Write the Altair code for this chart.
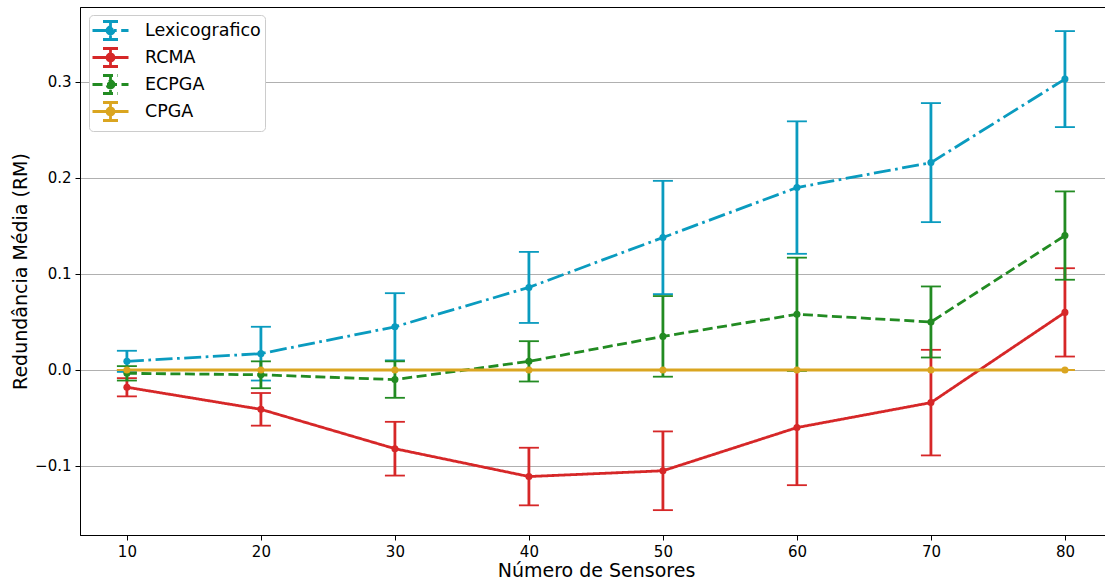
import altair as alt
import pandas as pd

sensores = [10, 20, 30, 40, 50, 60, 70, 80]
series_names = ["Lexicografico", "RCMA", "ECPGA", "CPGA"]

lex_mean = [0.009, 0.017, 0.045, 0.086, 0.138, 0.190, 0.216, 0.303]
lex_err = [0.011, 0.028, 0.035, 0.037, 0.059, 0.069, 0.062, 0.050]
rcma_mean = [-0.018, -0.041, -0.082, -0.111, -0.105, -0.060, -0.034, 0.060]
rcma_err = [0.0095, 0.017, 0.028, 0.030, 0.041, 0.060, 0.055, 0.046]
ecpga_mean = [-0.0035, -0.005, -0.010, 0.009, 0.035, 0.058, 0.050, 0.140]
ecpga_err = [0.0075, 0.014, 0.019, 0.021, 0.042, 0.059, 0.037, 0.046]
cpga_mean = [0.0, 0.0, 0.0, 0.0, 0.0, 0.0, 0.0, 0.0]
cpga_err = [0.0, 0.0, 0.0, 0.0, 0.0, 0.0, 0.0, 0.0]

means = [lex_mean, rcma_mean, ecpga_mean, cpga_mean]
errs = [lex_err, rcma_err, ecpga_err, cpga_err]
colors = ["#0a9bbf", "#d62728", "#228b22", "#daa520"]
dashes = [[17, 4.5, 2.7, 4.5], [1, 0], [10, 4.5], [1, 0]]

FONT = "DejaVu Sans"
xdom = [6.5, 82.99]
ydom = [-0.1719, 0.3781]

# legend symbol: line with an error bar and a dot, units scaled by sqrt(symbolSize)/2 = 10
legend_path = ("M-1.8,0H1.8M0,-0.9V0.9M-0.75,-0.9H0.75M-0.75,0.9H0.75"
               "M0.35,0A0.35,0.35,0,1,1,-0.35,0A0.35,0.35,0,1,1,0.35,0Z")
leg = alt.Legend(title=None, symbolType=legend_path)

layers = []
for name, m, e, c in zip(series_names, means, errs, colors):
    df = pd.DataFrame({
        "x": sensores,
        "y": m,
        "lo": [a - b for a, b in zip(m, e)],
        "hi": [a + b for a, b in zip(m, e)],
        "serie": name,
    })
    base = alt.Chart(df)
    X = alt.X("x:Q", scale=alt.Scale(domain=xdom, nice=False, zero=False),
              axis=alt.Axis(values=sensores, title="Número de Sensores", grid=False,
                            format="d", titleX=516))
    Y = alt.Y("y:Q", scale=alt.Scale(domain=ydom, nice=False, zero=False),
              axis=alt.Axis(values=[-0.1, 0.0, 0.1, 0.2, 0.3], format=".1f",
                            title="Redundância Média (RM)", grid=True, titleX=-50))
    line = base.mark_line(strokeWidth=2.8, clip=True).encode(
        x=X, y=Y,
        color=alt.Color("serie:N", scale=alt.Scale(domain=series_names, range=colors), legend=leg),
        strokeDash=alt.StrokeDash("serie:N", scale=alt.Scale(domain=series_names, range=dashes),
                                  legend=leg),
    )
    bars = base.mark_rule(strokeWidth=2.8, color=c).encode(
        x=alt.X("x:Q"), y=alt.Y("lo:Q"), y2=alt.Y2("hi:Q"))
    cap_hi = base.mark_rule(strokeWidth=1.8, color=c, xOffset=-10, x2Offset=10).encode(
        x=alt.X("x:Q"), x2=alt.X2("x:Q"), y=alt.Y("hi:Q"))
    cap_lo = base.mark_rule(strokeWidth=1.8, color=c, xOffset=-10, x2Offset=10).encode(
        x=alt.X("x:Q"), x2=alt.X2("x:Q"), y=alt.Y("lo:Q"))
    pts = base.mark_point(size=50, filled=True, opacity=1, strokeWidth=0).encode(
        x=alt.X("x:Q"), y=alt.Y("y:Q"),
        fill=alt.Fill("serie:N", scale=alt.Scale(domain=series_names, range=colors), legend=leg),
    )
    layers += [line, cap_hi, cap_lo, bars, pts]

chart = alt.layer(*layers).properties(
    width=1025, height=528,
    autosize=alt.AutoSizeParams(type="none"),
    padding={"left": 80, "top": 7, "right": 0, "bottom": 49},
).configure_view(
    stroke="#000000", strokeWidth=1
).configure_axis(
    labelFont=FONT, titleFont=FONT, labelFontSize=15, titleFontSize=19,
    titleFontWeight="normal", labelColor="#000000", titleColor="#000000",
    domainColor="#000000", tickColor="#000000", tickSize=5, labelPadding=4,
    gridColor="#b0b0b0", gridWidth=1,
).configure_axisX(
    titlePadding=2
).configure_axisY(
    titlePadding=6
).configure_legend(
    orient="none", legendX=9, legendY=8,
    labelFont=FONT, labelFontSize=17.5, labelColor="#000000",
    symbolSize=400, symbolStrokeWidth=2.8, symbolOffset=6, labelOffset=23,
    strokeColor="#cccccc", fillColor="#ffffff", cornerRadius=4,
    padding=4, rowPadding=-8,
)

chart.save("out.html", embed_options={"renderer": "svg", "actions": False})
